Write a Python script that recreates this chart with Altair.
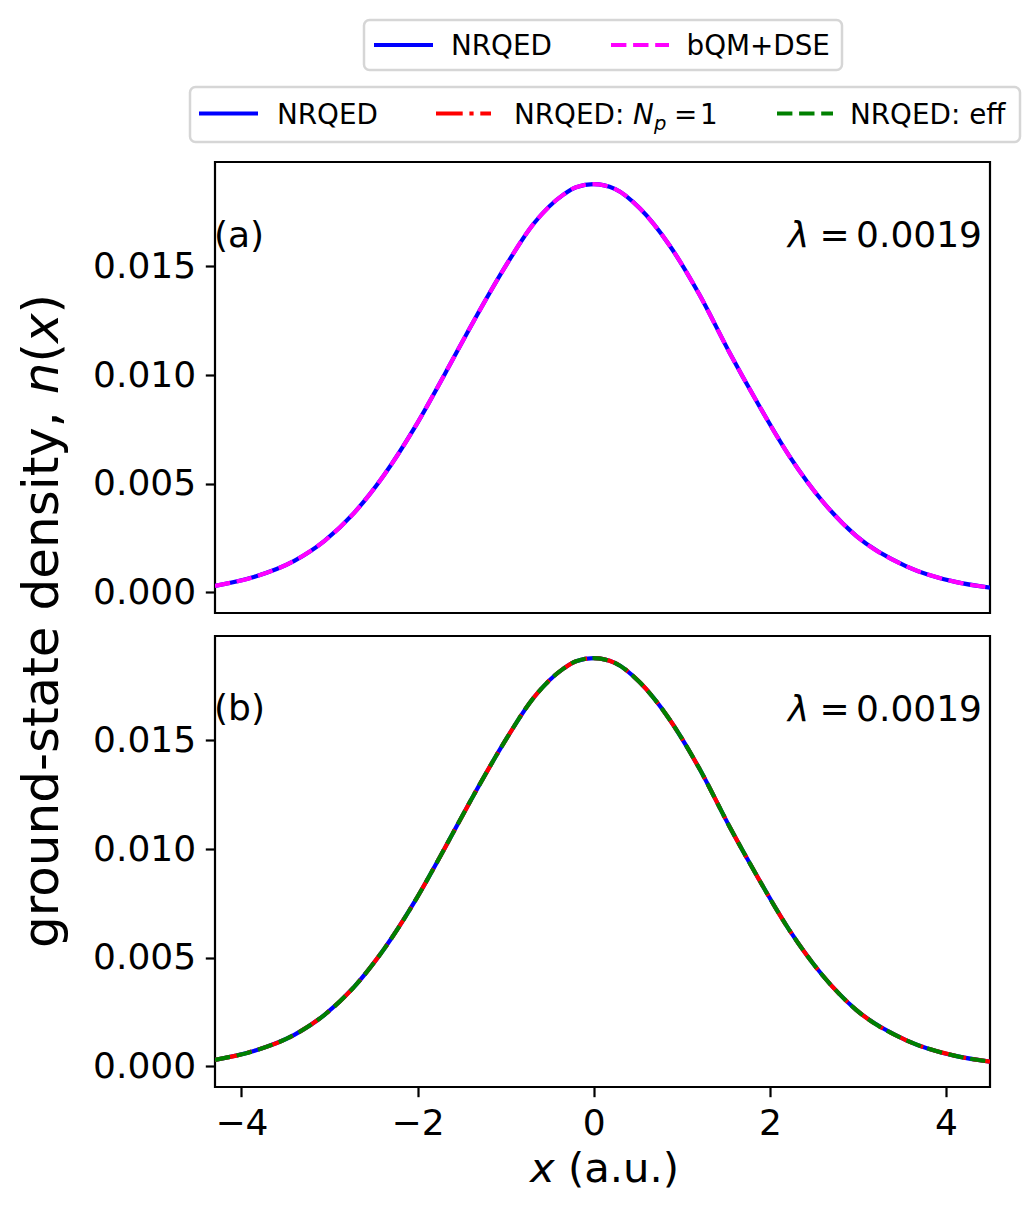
import altair as alt
import pandas as pd

# ---- data ----
x_pts = [-4.30, -3.85, -3.40, -3.06, -2.72, -2.38, -2.03, -1.69, -1.36, -1.02,
         -0.68, -0.34, -0.20, 0.00, 0.24, 0.52, 0.86, 1.20, 1.54, 1.84,
         2.22, 2.60, 2.98, 3.55, 4.12, 4.50]
n_nrqed = [0.00030, 0.00072, 0.00145, 0.00236, 0.00366, 0.00540, 0.00760, 0.01005,
           0.01250, 0.01488, 0.01697, 0.01831, 0.01864, 0.01878, 0.01856, 0.01768,
           0.01597, 0.01370, 0.01105, 0.00886, 0.00628, 0.00418, 0.00260, 0.00120,
           0.00047, 0.00022]
n_bqm_dse = [0.00030, 0.00072, 0.00145, 0.00236, 0.00366, 0.00540, 0.00760, 0.01005,
             0.01250, 0.01488, 0.01697, 0.01831, 0.01864, 0.01878, 0.01856, 0.01768,
             0.01597, 0.01370, 0.01105, 0.00886, 0.00628, 0.00418, 0.00260, 0.00120,
             0.00047, 0.00022]
n_nrqed_np1 = [0.00030, 0.00072, 0.00145, 0.00236, 0.00366, 0.00540, 0.00760, 0.01005,
               0.01250, 0.01488, 0.01697, 0.01831, 0.01864, 0.01878, 0.01856, 0.01768,
               0.01597, 0.01370, 0.01105, 0.00886, 0.00628, 0.00418, 0.00260, 0.00120,
               0.00047, 0.00022]
n_nrqed_eff = [0.00030, 0.00072, 0.00145, 0.00236, 0.00366, 0.00540, 0.00760, 0.01005,
               0.01250, 0.01488, 0.01697, 0.01831, 0.01864, 0.01878, 0.01856, 0.01768,
               0.01597, 0.01370, 0.01105, 0.00886, 0.00628, 0.00418, 0.00260, 0.00120,
               0.00047, 0.00022]

x_ticks = [-4, -2, 0, 2, 4]
y_ticks = [0.0, 0.005, 0.010, 0.015]
x_domain = [-4.3, 4.5]
y_domain = [-0.00095, 0.0198]

# ---- styles ----
W, H = 775, 451
FONT = "DejaVu Sans"
LW = 4.17
DASHED = [15.4, 6.7]
DASHDOT = [26.7, 6.7, 4.2, 6.7]
BLUE, MAGENTA, RED, GREEN = "#0000ff", "#ff00ff", "#ff0000", "#008000"
TICK_FS = 36
LEG_FS = 27.8

one = pd.DataFrame({"k": [0]})


def curve(vals, color, dash=None, show_x=False):
    df = pd.DataFrame({"x": x_pts, "n": vals})
    kw = dict(color=color, strokeWidth=LW, interpolate="monotone", clip=True)
    if dash:
        kw["strokeDash"] = dash
    if show_x:
        xaxis = alt.Axis(values=x_ticks, format="d", title=None, labelFlush=False,
                         labelOverlap=False)
    else:
        xaxis = None
    return alt.Chart(df).mark_line(**kw).encode(
        x=alt.X("x:Q", scale=alt.Scale(domain=x_domain, nice=False, zero=False), axis=xaxis),
        y=alt.Y("n:Q", scale=alt.Scale(domain=y_domain, nice=False, zero=False),
                axis=alt.Axis(values=y_ticks, format=".3f", title=None, labelOverlap=False)),
    )


def txt(s, x, y, size, align="left", style="normal", angle=0):
    return alt.Chart(one).mark_text(
        text=s, align=align, baseline="alphabetic", font=FONT, fontSize=size,
        fontStyle=style, color="black", angle=angle,
    ).encode(x=alt.value(x), y=alt.value(y))


def sample(x1, x2, y, color, dash=None):
    kw = dict(color=color, strokeWidth=LW)
    if dash:
        kw["strokeDash"] = dash
    return alt.Chart(one).mark_rule(**kw).encode(
        x=alt.value(x1), x2=alt.value(x2), y=alt.value(y))


def box(x1, x2, y1, y2):
    return alt.Chart(one).mark_rect(
        fill="white", stroke="#d6d6d6", strokeWidth=2.5, cornerRadius=5.5
    ).encode(x=alt.value(x1), x2=alt.value(x2), y=alt.value(y1), y2=alt.value(y2))


anchor = alt.Chart(one).mark_rect(fill="white").encode(
    x=alt.value(-205), x2=alt.value(-201), y=alt.value(-152), y2=alt.value(-148))

# legend 1 (row centre y=-117)
leg1 = [
    box(149, 627, -142, -92),
    sample(159, 218, -117, BLUE),
    txt("NRQED", 236, -107, LEG_FS),
    sample(396, 454, -117, MAGENTA, DASHED),
    txt("bQM+DSE", 471.5, -107, LEG_FS),
]
# legend 2 (row centre y=-48.5)
leg2 = [
    box(-25, 805, -75, -20),
    sample(-16, 43, -48.5, BLUE),
    txt("NRQED", 62, -38, LEG_FS),
    sample(221, 276, -48.5, RED, DASHDOT),
    txt("NRQED:", 299, -38, LEG_FS),
    txt("N", 418, -38, LEG_FS, style="italic"),
    txt("p", 439, -32, 19.5, style="italic"),
    txt("=", 459, -38, LEG_FS),
    txt("1", 485, -38, LEG_FS),
    sample(562, 618, -48.5, GREEN, DASHED),
    txt("NRQED: eff", 635, -38, LEG_FS),
]

# y title (rotated), baseline at x=-157
YB = -157
ytitle = [
    txt("ground-state density,", YB, 786, 50, angle=270),
    txt("n", YB, 232.2, 50, style="italic", angle=270),
    txt("(", YB, 200.5, 50, angle=270),
    txt("x", YB, 181, 50, style="italic", angle=270),
    txt(")", YB, 151.4, 50, angle=270),
]


def lam(yb):
    return [
        txt("λ", 573, yb, TICK_FS, style="italic"),
        txt("=", 604.5, yb, TICK_FS),
        txt("0.0019", 767, yb, TICK_FS, align="right"),
    ]


top = alt.layer(
    curve(n_nrqed, BLUE),
    curve(n_bqm_dse, MAGENTA, DASHED),
    txt("(a)", -1, 84.5, TICK_FS),
    *lam(84.5),
    anchor,
    *leg1,
    *leg2,
    *ytitle,
).properties(width=W, height=H)

bottom = alt.layer(
    curve(n_nrqed, BLUE, show_x=True),
    curve(n_nrqed_np1, RED, DASHDOT, show_x=True),
    curve(n_nrqed_eff, GREEN, DASHED, show_x=True),
    txt("(b)", -1, 83.5, TICK_FS),
    *lam(84.5),
    txt("x", 315, 546, 41.7, style="italic"),
    txt("(a.u.)", 352.9, 546, 41.7),
).properties(width=W, height=H)

chart = (
    alt.vconcat(top, bottom, spacing=23, bounds="flush")
    .properties(padding=0)
    .configure_view(stroke="black", strokeWidth=2.2)
    .configure_axis(
        grid=False, domain=False, ticks=True, tickColor="black", tickWidth=2.2,
        tickSize=9.7, labelFont=FONT, labelFontSize=TICK_FS, labelColor="black",
        labelPadding=9.7,
    )
)

chart.save("out.html", embed_options={"renderer": "svg", "actions": False})
